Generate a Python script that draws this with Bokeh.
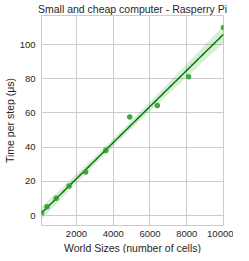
import numpy as np
from bokeh.plotting import figure
from bokeh.models import Range1d, FixedTicker, ColumnDataSource, Title
from bokeh.embed import file_html
from bokeh.resources import INLINE

world_sizes = [100, 400, 900, 1600, 2500, 3600, 4900, 6400, 8100, 10000]
time_per_step = [1.6, 5.1, 10.1, 17.3, 25.5, 38.1, 57.6, 64.3, 81.2, 110.0]
x_ticks = [2000, 4000, 6000, 8000, 10000]
y_ticks = [0, 20, 40, 60, 80, 100]

x = np.array(world_sizes, dtype=float)
y = np.array(time_per_step, dtype=float)
n = len(x)
b, a = np.polyfit(x, y, 1)
xg = np.linspace(x.min(), x.max(), 100)
yg = a + b * xg
resid = y - (a + b * x)
s = np.sqrt(np.sum(resid ** 2) / (n - 2))
se = s * np.sqrt(1.0 / n + (xg - x.mean()) ** 2 / np.sum((x - x.mean()) ** 2))
tval = 2.306
lower = yg - tval * se
upper = yg + tval * se

FONT = "Liberation Sans"
TXT = "#262626"

p = figure(width=233, height=253, output_backend="svg", toolbar_location=None,
           x_range=Range1d(100, 10000), y_range=Range1d(-5.8, 117),
           min_border_left=0, min_border_right=10, min_border_top=9, min_border_bottom=0,
           title="Small and cheap computer - Rasperry Pi")
p.title.text_font = FONT
p.title.text_font_size = "10.5px"
p.title.text_font_style = "normal"
p.title.text_color = TXT
p.title.align = "center"
p.title.standoff = 1
p.title.offset = 0

p.outline_line_color = "#cccccc"
p.background_fill_color = "white"
p.border_fill_color = "white"
for ax in (p.xaxis, p.yaxis):
    ax.axis_line_color = None
    ax.major_tick_line_color = None
    ax.minor_tick_line_color = None
    ax.major_tick_out = 0
    ax.major_tick_in = 0
    ax.minor_tick_out = 0
    ax.minor_tick_in = 0
    ax.major_label_text_font = FONT
    ax.major_label_text_font_size = "9.5px"
    ax.major_label_text_color = TXT
    ax.axis_label_text_font = FONT
    ax.axis_label_text_font_size = "10.5px"
    ax.axis_label_text_font_style = "normal"
    ax.axis_label_text_color = TXT
p.xaxis.ticker = FixedTicker(ticks=x_ticks)
p.yaxis.ticker = FixedTicker(ticks=y_ticks)
p.xaxis.major_label_standoff = 5
p.yaxis.major_label_standoff = 6
p.yaxis.axis_label = "Time per step (μs)"
p.yaxis.axis_label_standoff = 1
p.grid.grid_line_color = "#cccccc"
p.grid.grid_line_width = 1

xlabel = Title(text="World Sizes (number of cells)", align="center",
               text_font=FONT, text_font_size="10.5px", text_font_style="normal",
               text_color=TXT, standoff=0, offset=0)
p.add_layout(xlabel, "below")

band = ColumnDataSource(dict(x=xg, lower=lower, upper=upper, y=yg))
p.varea(x="x", y1="lower", y2="upper", source=band, fill_color="#008000", fill_alpha=0.15)
p.line(x="x", y="y", source=band, line_color="#008000", line_width=1.5)
p.scatter(x=world_sizes, y=time_per_step, size=5.5, fill_color="#2ca02c",
          line_color=None, fill_alpha=0.9)

open("out.html", "w").write(file_html(p, INLINE))
